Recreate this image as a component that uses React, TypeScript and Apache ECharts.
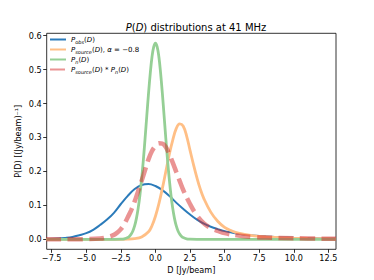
import React, { useEffect, useRef } from "react";
import * as echarts from "echarts";

// ---- data ----
const obsX = [-7.9, -7, -6.5, -6, -5.5, -5, -4.5, -4, -3.5, -3, -2.5, -2, -1.5, -1, -0.5, 0, 0.5, 1, 1.5, 2, 2.5, 3, 3.5, 4, 4.5, 5, 5.5, 6, 6.5, 7, 8, 9, 10, 11, 12, 13.05];
const obsY = [0.001, 0.002, 0.004, 0.007, 0.012, 0.018, 0.028, 0.042, 0.058, 0.078, 0.104, 0.128, 0.148, 0.16, 0.163, 0.157, 0.145, 0.128, 0.108, 0.09, 0.073, 0.058, 0.046, 0.037, 0.03, 0.024, 0.02, 0.016, 0.013, 0.011, 0.008, 0.006, 0.0045, 0.0035, 0.0025, 0.002];

const srcX = [-7.9, -3, -2, -1.5, -1, -0.5, -0.25, 0, 0.25, 0.5, 0.75, 1, 1.25, 1.5, 1.75, 2, 2.25, 2.5, 2.75, 3, 3.25, 3.5, 4, 4.5, 5, 5.5, 6, 7, 8, 9, 10, 11, 12, 13.05];
const srcY = [0, 0, 0.0005, 0.002, 0.007, 0.022, 0.04, 0.068, 0.105, 0.15, 0.2, 0.25, 0.292, 0.326, 0.34, 0.334, 0.305, 0.262, 0.22, 0.181, 0.147, 0.12, 0.08, 0.053, 0.035, 0.025, 0.018, 0.011, 0.007, 0.005, 0.0035, 0.0025, 0.002, 0.0015];

const noiseX = [-7.9, -3, -2.5, -2.25, -2, -1.875, -1.75, -1.625, -1.5, -1.375, -1.25, -1.125, -1, -0.875, -0.75, -0.625, -0.5, -0.375, -0.25, -0.125, 0, 0.125, 0.25, 0.375, 0.5, 0.625, 0.75, 0.875, 1, 1.125, 1.25, 1.375, 1.5, 1.625, 1.75, 1.875, 2, 2.25, 2.5, 3, 13.05];
const noiseY = [0, 0, 0.0004, 0.0014, 0.0051, 0.009, 0.0154, 0.0254, 0.04, 0.0617, 0.091, 0.129, 0.177, 0.2335, 0.297, 0.364, 0.43, 0.489, 0.537, 0.567, 0.578, 0.567, 0.537, 0.489, 0.43, 0.364, 0.297, 0.2335, 0.177, 0.129, 0.091, 0.0617, 0.04, 0.0254, 0.0154, 0.009, 0.0051, 0.0014, 0.0004, 0, 0];

const convX = [-7.9, -5, -4, -3.5, -3, -2.75, -2.5, -2.25, -2, -1.75, -1.5, -1.25, -1, -0.75, -0.5, -0.25, 0, 0.25, 0.5, 0.75, 1, 1.25, 1.5, 1.75, 2, 2.5, 3, 3.5, 4, 4.5, 5, 6, 7, 8, 10, 13.05];
const convY = [0, 0.0005, 0.002, 0.006, 0.013, 0.02, 0.03, 0.045, 0.065, 0.086, 0.112, 0.142, 0.172, 0.204, 0.236, 0.26, 0.275, 0.283, 0.282, 0.272, 0.251, 0.226, 0.199, 0.172, 0.146, 0.104, 0.07, 0.047, 0.033, 0.025, 0.018, 0.011, 0.007, 0.005, 0.003, 0.0015];

const xTicks = [-7.5, -5, -2.5, 0, 2.5, 5, 7.5, 10, 12.5];
const yTicks = [0, 0.1, 0.2, 0.3, 0.4, 0.5, 0.6];

const seriesNames = ["obs", "source", "noise", "conv"];
const legendLabels: Record<string, string> = {
  obs: "{i|P}{s|obs}{n|(}{i|D}{n|)}",
  source: "{i|P}{s|source}{n|(}{i|D}{n|), }{i|α}{n| = −0.8}",
  noise: "{i|P}{s|n}{n|(}{i|D}{n|)}",
  conv: "{i|P}{s|source}{n|(}{i|D}{n|) * }{i|P}{s|n}{n|(}{i|D}{n|)}",
};

const FONT = "DejaVu Sans";
const fmt = (v: number) => v.toFixed(1).replace("-", "−");
const pairs = (xs: number[], ys: number[]) => xs.map((x, i) => [x, ys[i]]);

export default function App() {
  const ref = useRef<HTMLDivElement>(null);
  useEffect(() => {
    if (!ref.current) return;
    const chart = echarts.init(ref.current, undefined, { renderer: "svg" });
    const legRich = {
      i: { fontStyle: "italic", fontSize: 7, lineHeight: 10, fontFamily: FONT, color: "#000" },
      n: { fontSize: 7, lineHeight: 10, fontFamily: FONT, color: "#000" },
      s: { fontStyle: "italic", fontSize: 5, lineHeight: 10, verticalAlign: "bottom", fontFamily: FONT, color: "#000" },
    };
    chart.setOption({
      animation: false,
      backgroundColor: "#fff",
      title: {
        text: "{i|P}{n|(}{i|D}{n|) distributions at 41 MHz}",
        left: 191,
        top: 17,
        textAlign: "center",
        textStyle: {
          fontWeight: "normal",
          rich: {
            i: { fontStyle: "italic", fontWeight: "normal", fontSize: 10, fontFamily: FONT, color: "#000" },
            n: { fontWeight: "normal", fontSize: 10, fontFamily: FONT, color: "#000" },
          },
        },
      },
      legend: {
        orient: "vertical",
        left: 49,
        top: 36,
        itemWidth: 16,
        itemHeight: 8,
        itemGap: 1.5,
        padding: 0,
        data: seriesNames,
        itemStyle: { opacity: 0 },
        formatter: (name: string) => legendLabels[name],
        textStyle: { rich: legRich },
      },
      grid: {
        left: 46.7,
        right: 38,
        top: 33.3,
        bottom: 30.7,
        show: true,
        borderColor: "#000",
        borderWidth: 0.8,
        backgroundColor: "transparent",
      },
      xAxis: {
        type: "value",
        min: -7.86,
        max: 13.05,
        name: "D [Jy/beam]",
        nameLocation: "middle",
        nameGap: 16.5,
        nameMoveOverlap: false,
        nameTextStyle: { fontFamily: FONT, fontSize: 8.1, color: "#000" },
        axisLine: { show: false, onZero: false },
        splitLine: { show: false },
        axisTick: { show: true, length: 3.5, lineStyle: { color: "#000", width: 0.8 }, customValues: xTicks },
        axisLabel: {
          customValues: xTicks,
          formatter: (v: number) => fmt(v),
          fontFamily: FONT,
          fontSize: 8.1,
          color: "#000",
          margin: 4.5,
        },
      },
      yAxis: {
        type: "value",
        min: -0.0295,
        max: 0.607,
        name: "P(D) [(Jy/beam)⁻¹]",
        nameLocation: "middle",
        nameGap: 25,
        nameMoveOverlap: false,
        nameTextStyle: { fontFamily: FONT, fontSize: 8.1, color: "#000" },
        axisLine: { show: false, onZero: false },
        splitLine: { show: false },
        axisTick: { show: true, length: 3.5, lineStyle: { color: "#000", width: 0.8 }, customValues: yTicks },
        axisLabel: {
          customValues: yTicks,
          formatter: (v: number) => fmt(v),
          fontFamily: FONT,
          fontSize: 8.1,
          color: "#000",
          margin: 5,
        },
      },
      series: [
        {
          name: "obs",
          type: "line",
          symbol: "none",
          smooth: 0.4,
          data: pairs(obsX, obsY),
          lineStyle: { color: "#2b7bba", width: 2 },
          itemStyle: { color: "#2b7bba" },
        },
        {
          name: "source",
          type: "line",
          symbol: "none",
          smooth: 0.4,
          data: pairs(srcX, srcY),
          lineStyle: { color: "#ffbf86", width: 2.8 },
          itemStyle: { color: "#ffbf86" },
        },
        {
          name: "noise",
          type: "line",
          symbol: "none",
          smooth: 0.4,
          data: pairs(noiseX, noiseY),
          lineStyle: { color: "#95cf95", width: 2.8 },
          itemStyle: { color: "#95cf95" },
        },
        {
          name: "conv",
          type: "line",
          symbol: "none",
          smooth: 0.4,
          data: pairs(convX, convY),
          lineStyle: { color: "rgba(214,39,40,0.5)", width: 4.5, type: [15, 6.5] },
          itemStyle: { color: "rgba(214,39,40,0.5)" },
        },
      ],
    });
    return () => chart.dispose();
  }, []);
  return <div ref={ref} style={{ width: 374, height: 280, position: "absolute", left: 0, top: 0 }} />;
}
